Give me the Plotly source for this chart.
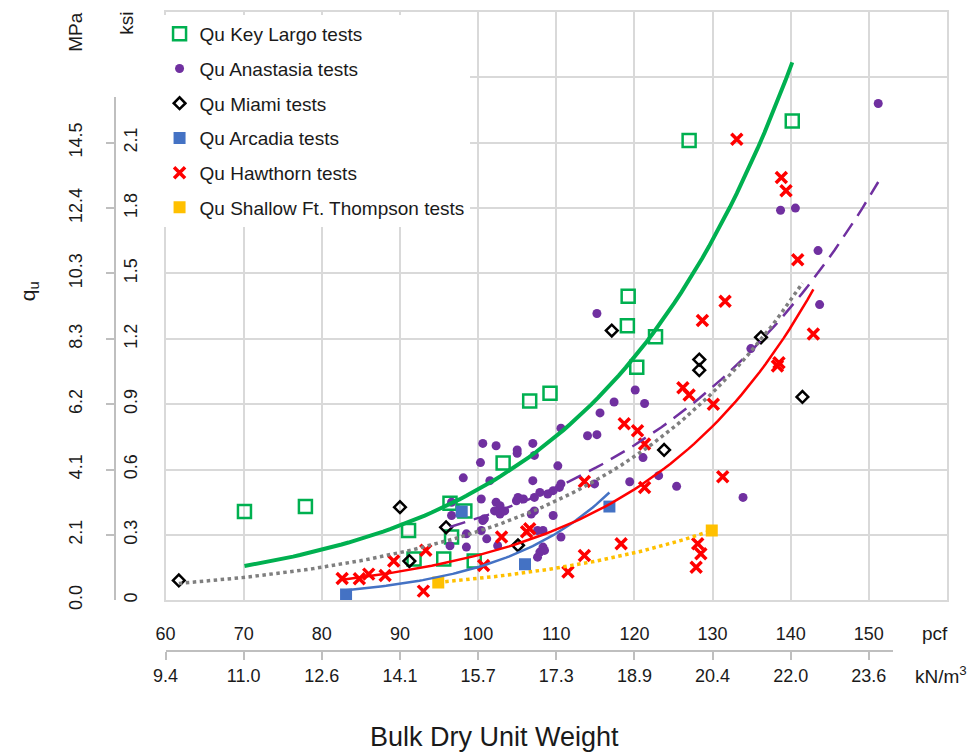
import numpy as np
import plotly.graph_objects as go

# Bulk dry unit weight (pcf) and unconfined compressive strength qu (ksi)
key_largo_pcf = [70.1, 77.9, 91.1, 91.8, 96.4, 96.6, 95.6, 98.3, 99.5, 103.2,
                 106.6, 109.2, 119.2, 119.1, 122.7, 120.3, 127.0, 140.2]
key_largo_ksi = [0.407, 0.43, 0.32, 0.19, 0.445, 0.29, 0.19, 0.41, 0.18, 0.63,
                 0.915, 0.95, 1.395, 1.26, 1.21, 1.07, 2.11, 2.20]

anastasia_pcf = [151.2, 138.7, 140.6, 143.5, 143.7, 134.9, 115.2, 117.4, 120.1, 121.3,
                 115.6, 110.6, 114.0, 115.2, 102.3, 105.0, 105.0, 107.0, 107.2, 100.6,
                 100.3, 110.2, 121.1, 107.0, 110.6, 110.4, 100.4, 102.3, 102.8, 102.1,
                 102.8, 104.9, 105.1, 107.2, 107.9, 108.9, 109.6, 107.2, 109.6, 100.6,
                 101.1, 107.6, 108.3, 108.3, 107.9, 107.6, 110.6, 114.9, 119.4, 123.1,
                 125.4, 133.9, 98.1, 101.5, 96.6, 96.6, 96.4, 98.5, 100.4, 98.5,
                 100.8, 103.4, 105.8, 106.8, 108.5, 102.5]
anastasia_ksi = [2.28, 1.79, 1.80, 1.605, 1.357, 1.155, 1.316, 0.91, 0.965, 0.903,
                 0.86, 0.79, 0.755, 0.76, 0.709, 0.69, 0.675, 0.72, 0.665, 0.72,
                 0.632, 0.617, 0.655, 0.549, 0.534, 0.518, 0.465, 0.45, 0.434, 0.41,
                 0.396, 0.457, 0.472, 0.472, 0.495, 0.488, 0.503, 0.41, 0.389, 0.366,
                 0.282, 0.32, 0.32, 0.244, 0.221, 0.198, 0.29, 0.534, 0.544, 0.572,
                 0.523, 0.472, 0.562, 0.549, 0.45, 0.389, 0.25, 0.244, 0.32, 0.305,
                 0.374, 0.41, 0.465, 0.396, 0.229, 0.25]

miami_pcf = [61.7, 90.0, 91.2, 95.9, 105.1, 117.1, 123.8, 128.3, 128.3, 136.2, 141.5]
miami_ksi = [0.091, 0.427, 0.18, 0.335, 0.252, 1.238, 0.69, 1.105, 1.056, 1.207, 0.933]

arcadia_pcf = [83.1, 97.9, 106.0, 116.8]
arcadia_ksi = [0.027, 0.407, 0.165, 0.43]

hawthorn_pcf = [82.6, 84.8, 86.0, 88.1, 89.2, 93.3, 93.0, 100.7, 103.0, 106.2,
                106.6, 111.5, 113.6, 118.3, 113.6, 121.3, 118.7, 120.4, 121.3, 131.3,
                128.1, 128.5, 127.9, 131.6, 128.7, 126.2, 127.0, 130.1, 133.1, 138.8,
                139.4, 140.9, 142.9, 138.5, 138.3]
hawthorn_ksi = [0.10, 0.099, 0.12, 0.114, 0.18, 0.23, 0.042, 0.16, 0.29, 0.315,
                0.328, 0.13, 0.206, 0.259, 0.545, 0.518, 0.81, 0.778, 0.717, 0.567,
                0.259, 0.214, 0.152, 1.372, 1.284, 0.975, 0.942, 0.90, 2.116, 1.94,
                1.88, 1.563, 1.222, 1.09, 1.075]

shallow_pcf = [94.9, 129.9]
shallow_ksi = [0.082, 0.32]

series_names = ["Qu Key Largo tests", "Qu Anastasia tests", "Qu Miami tests",
                "Qu Arcadia tests", "Qu Hawthorn tests", "Qu Shallow Ft. Thompson tests"]

# Exponential trendlines qu = A * exp(B * pcf), one per series
trend_A = [0.00999, 0.01567, 0.00797, 0.000136, 0.0023, 0.002045]
trend_B = [0.0393, 0.0318, 0.0368, 0.0702, 0.045, 0.0389]

# Axis ticks
pcf_ticks = [60, 70, 80, 90, 100, 110, 120, 130, 140, 150]
ksi_ticks = [0, 0.3, 0.6, 0.9, 1.2, 1.5, 1.8, 2.1]
ksi_grid = [0, 0.3, 0.6, 0.9, 1.2, 1.5, 1.8, 2.1, 2.4, 2.7]
KSI_TO_MPA = 6.894757
PCF_TO_KNM3 = 0.157087

xs = [key_largo_pcf, anastasia_pcf, miami_pcf, arcadia_pcf, hawthorn_pcf, shallow_pcf]
ys = [key_largo_ksi, anastasia_ksi, miami_ksi, arcadia_ksi, hawthorn_ksi, shallow_ksi]

colors = ["#00B050", "#7030A0", "#000000", "#4472C4", "#FF0000", "#FFC000"]
symbols = ["square-open", "circle", "diamond-open", "square", "x-thin-open", "square"]
sizes = [13, 9, 9, 12, 11, 12]
mline = [2.5, 0, 2.5, 0, 3.5, 0]
trend_styles = [
    dict(color="#00B050", width=4, dash="solid"),
    dict(color="#7030A0", width=2.5, dash="16px,9px"),
    dict(color="#7F7F7F", width=3.5, dash="dot"),
    dict(color="#4472C4", width=2.5, dash="solid"),
    dict(color="#FF0000", width=2.5, dash="solid"),
    dict(color="#FFC000", width=3.5, dash="dot"),
]

fig = go.Figure()

for i in range(6):
    fig.add_trace(go.Scatter(
        x=xs[i], y=ys[i], mode="markers", name=series_names[i],
        legendgroup=str(i),
        marker=dict(symbol=symbols[i], size=sizes[i], color=colors[i],
                    line=dict(width=mline[i], color=colors[i])),
    ))

for i in range(6):
    xt = np.linspace(min(xs[i]), max(xs[i]), 80)
    yt = trend_A[i] * np.exp(trend_B[i] * xt)
    fig.add_trace(go.Scatter(x=xt, y=yt, mode="lines", showlegend=False,
                             hoverinfo="skip", line=trend_styles[i]))

# empty traces so the secondary unit axes (kN/m3, ksi scale, MPa scale) get drawn
fig.add_trace(go.Scatter(x=[], y=[], xaxis="x2", yaxis="y2", mode="markers",
                         showlegend=False, hoverinfo="skip"))
fig.add_trace(go.Scatter(x=[], y=[], xaxis="x2", yaxis="y3", mode="markers",
                         showlegend=False, hoverinfo="skip"))

# page geometry (pixels)
W, H = 974, 754
ML, MR, MT, MB = 20, 27, 10, 60
PW, PH = W - ML - MR, H - MT - MB


def fx(px):
    return (px - ML) / PW


def fy(py):
    return (H - MB - py) / PH


plot_left, plot_right, plot_top, plot_bottom = 163, 947, 10, 600
ksi_per_px = 2.7 / (plot_bottom - plot_top)
pcf_per_px = 100 / (plot_right - plot_left)

label_font = "Liberation Sans Narrow, Arial Narrow, Liberation Sans, Arial"
regular = "Liberation Sans, Arial"
grid = "#D9D9D9"
axis_grey = "#BFBFBF"
ink = "#1a1a1a"

fig.update_layout(
    width=W, height=H,
    margin=dict(l=ML, r=MR, t=MT, b=MB),
    paper_bgcolor="white", plot_bgcolor="rgba(0,0,0,0)",
    showlegend=True,
    legend=dict(x=fx(157), y=fy(13), xanchor="left", yanchor="top",
                bgcolor="white", borderwidth=0, tracegroupgap=7,
                font=dict(family=regular, size=19, color=ink)),
    xaxis=dict(domain=[fx(plot_left), 1], range=[60, 160], tickvals=pcf_ticks,
               showgrid=True, gridcolor=grid, gridwidth=2, zeroline=False,
               showline=True, mirror=True, linecolor=grid, linewidth=2,
               ticks="", ticklabelstandoff=16,
               tickfont=dict(family=label_font, size=18, color=ink)),
    yaxis=dict(domain=[fy(plot_bottom), 1], range=[0, 2.7], tickvals=ksi_grid,
               showticklabels=False, showgrid=True, gridcolor=grid, gridwidth=2,
               zeroline=False, showline=True, mirror=True, linecolor=grid, linewidth=2,
               ticks=""),
    xaxis2=dict(anchor="free", position=fy(651),
                domain=[fx(plot_left), fx(893)],
                range=[60, 60 + (893 - plot_left) * pcf_per_px],
                tickvals=pcf_ticks,
                ticktext=[f"{v * PCF_TO_KNM3:.1f}" for v in pcf_ticks],
                showgrid=False, zeroline=False, showline=True, linecolor=axis_grey,
                linewidth=2, ticks="outside", ticklen=8, tickwidth=2, tickcolor=axis_grey,
                tickfont=dict(family=label_font, size=18, color=ink)),
    yaxis2=dict(anchor="free", position=fx(112), side="right",
                domain=[fy(plot_bottom), fy(95)],
                range=[0, (plot_bottom - 95) * ksi_per_px],
                tickvals=ksi_ticks,
                ticktext=[f"{v:g}" for v in ksi_ticks],
                showgrid=False, zeroline=False, showline=True, linecolor=axis_grey,
                linewidth=2, ticks="inside", ticklen=8, tickwidth=2, tickcolor=axis_grey,
                tickangle=-90,
                tickfont=dict(family=label_font, size=18, color=ink)),
    yaxis3=dict(anchor="free", position=fx(60), side="right",
                domain=[fy(plot_bottom), fy(95)],
                range=[0, (plot_bottom - 95) * ksi_per_px],
                tickvals=ksi_ticks,
                ticktext=[f"{v * KSI_TO_MPA:.1f}" for v in ksi_ticks],
                showgrid=False, zeroline=False, showline=False, ticks="",
                tickangle=-90,
                tickfont=dict(family=label_font, size=18, color=ink)),
)

ann_font = dict(family=label_font, size=19, color=ink)
annotations = [
    dict(text="MPa", x=fx(73), y=fy(30), textangle=-90, font=ann_font),
    dict(text="ksi", x=fx(124), y=fy(21), textangle=-90, font=ann_font),
    dict(text="q<sub>u</sub>", x=fx(26), y=fy(290), textangle=-90,
         font=dict(family=label_font, size=21, color=ink)),
    dict(text="pcf", x=fx(935), y=fy(633), font=ann_font),
    dict(text="kN/m<sup>3</sup>", x=fx(941), y=fy(675), font=ann_font),
    dict(text="Bulk Dry Unit Weight", x=fx(493), y=fy(737),
         font=dict(family=label_font, size=27, color=ink)),
]
for a in annotations:
    a.update(xref="paper", yref="paper", showarrow=False,
             xanchor="center", yanchor="middle")
fig.update_layout(annotations=annotations)

fig.write_html("out.html")
